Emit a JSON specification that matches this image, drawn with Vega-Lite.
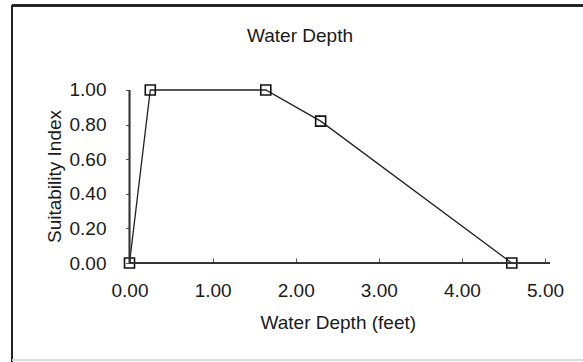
{
  "$schema": "https://vega.github.io/schema/vega-lite/v6.json",
  "autosize": {"type": "none"},
  "padding": {"left": 12, "top": 4, "right": 0, "bottom": 0},
  "width": 571,
  "height": 358,
  "background": "white",
  "config": {"view": {"stroke": null}, "font": "Liberation Sans"},
  "title": {"text": "Water Depth", "fontSize": 19, "fontWeight": "normal", "font": "Liberation Sans", "color": "#1a1a1a", "baseline": "alphabetic", "offset": -37, "dy": 20, "dx": 2.5},
  "data": {"values": [
    {"depth": 0, "si": 0},
    {"depth": 0.25, "si": 1},
    {"depth": 1.64, "si": 1},
    {"depth": 2.3, "si": 0.82},
    {"depth": 4.6, "si": 0}
  ]},
  "layer": [
    {
      "mark": {"type": "rule", "color": "#222", "strokeWidth": 2},
      "encoding": {"y": {"datum": 1.488, "type": "quantitative"}, "x": {"datum": -1.414, "type": "quantitative"}, "x2": {"datum": 5.457}}
    },
    {
      "mark": {"type": "rule", "color": "#222", "strokeWidth": 2},
      "encoding": {"x": {"datum": -1.414, "type": "quantitative"}, "y": {"datum": -0.572, "type": "quantitative"}, "y2": {"datum": 1.488}}
    },
    {
      "mark": {"type": "rule", "color": "#d8d8d8", "strokeWidth": 1},
      "encoding": {"y": {"datum": -0.561, "type": "quantitative"}, "x": {"datum": -1.414, "type": "quantitative"}, "x2": {"datum": 5.457}}
    },
    {
      "mark": {"type": "line", "color": "#222", "strokeWidth": 1.3},
      "encoding": {
        "x": {"field": "depth", "type": "quantitative",
          "scale": {"domain": [-1.414, 5.457], "nice": false, "zero": false},
          "axis": {"title": "Water Depth (feet)", "values": [0, 1, 2, 3, 4, 5], "format": ".2f", "grid": false, "domain": false,
            "tickSize": -5, "tickColor": "#555", "labelPadding": 23.6, "offset": -99, "labelFontSize": 19, "titleFontSize": 19,
            "titleFontWeight": "normal", "titleX": 325.8, "titlePadding": 13, "labelColor": "#1a1a1a", "titleColor": "#1a1a1a",
            "labelFlush": false, "labelOverlap": false}},
        "y": {"field": "si", "type": "quantitative",
          "scale": {"domain": [-0.572, 1.497], "nice": false, "zero": false},
          "axis": {"title": "Suitability Index", "values": [0, 0.2, 0.4, 0.6, 0.8, 1], "format": ".2f", "grid": false, "domain": false,
            "tickSize": 4, "tickColor": "#555", "labelPadding": 19.5, "offset": -117.5, "labelFontSize": 19, "titleFontSize": 19,
            "titleFontWeight": "normal", "titleY": 172, "titlePadding": 5, "labelColor": "#1a1a1a", "titleColor": "#1a1a1a",
            "labelFlush": false, "labelOverlap": false}}
      }
    },
    {
      "mark": {"type": "point", "shape": "square", "size": 100, "filled": false, "stroke": "#111", "strokeWidth": 1.6, "opacity": 1},
      "encoding": {
        "x": {"field": "depth", "type": "quantitative"},
        "y": {"field": "si", "type": "quantitative"}
      }
    },
    {
      "mark": {"type": "rule", "color": "#333", "strokeWidth": 1.3},
      "encoding": {"x": {"datum": 0, "type": "quantitative"}, "y": {"datum": 0, "type": "quantitative"}, "y2": {"datum": 1}}
    },
    {
      "mark": {"type": "rule", "color": "#333", "strokeWidth": 1.3},
      "encoding": {"y": {"datum": 0, "type": "quantitative"}, "x": {"datum": 0, "type": "quantitative"}, "x2": {"datum": 5.06}}
    }
  ]
}
